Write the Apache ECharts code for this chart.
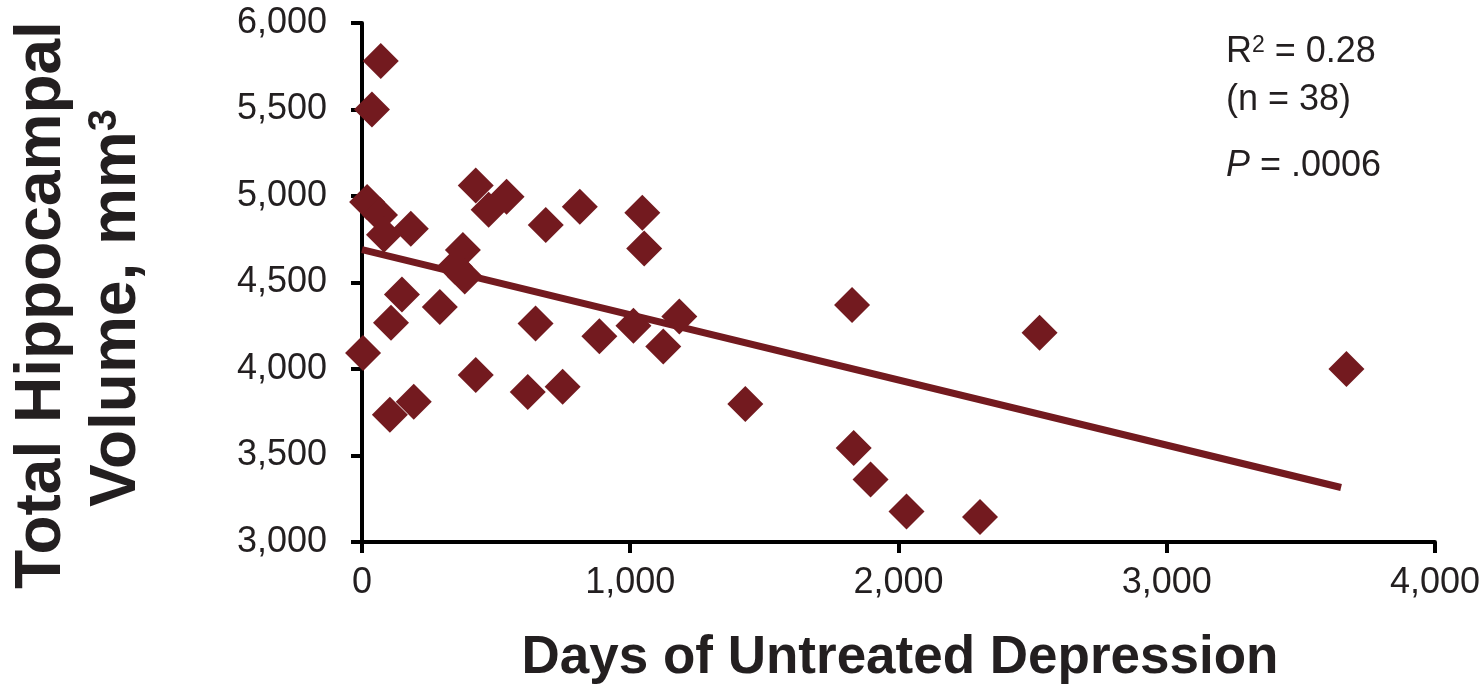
<!DOCTYPE html>
<html>
<head>
<meta charset="utf-8">
<title>Hippocampal volume vs. days of untreated depression</title>
<script src="https://cdn.jsdelivr.net/npm/echarts@6/dist/echarts.min.js"></script>
<style>
  html, body { margin: 0; padding: 0; background: #fff; }
  #chart { width: 1483px; height: 688px; }
</style>
</head>
<body>
<div id="chart"></div>
<script>
// Days of untreated depression for each subject
const daysUntreated = [
  70, 37, 424, 539, 472, 685, 812, 1045, 1052, 182,
  19, 67, 82, 376, 346, 383, 149, 290, 108, 4,
  647, 885, 1012, 1123, 1183, 424, 618, 748, 104, 193,
  1827, 1429, 2526, 3670, 1833, 1896, 2030, 2304
];
// Total hippocampal volume (mm³) for the same subjects
const hippocampalVolume = [
  5780, 5500, 5060, 4995, 4920, 4833, 4938, 4903, 4697, 4810,
  4965, 4890, 4776, 4688, 4592, 4535, 4430, 4358, 4268, 4092,
  4263, 4190, 4250, 4130, 4303, 3966, 3867, 3898, 3735, 3811,
  4370, 3798, 4210, 4000, 3543, 3361, 3177, 3145
];
// Linear fit endpoints
const trendDays = [0, 3650];
const trendVolume = [4690, 3315];

// Axis ranges
const xRange = [0, 4000, 1000];
const yRange = [3000, 6000, 500];

// Annotation values
const rSquared = '0.28';
const sampleSize = 38;
const pValueText = '.0006';

const MAROON = '#731a1f';
const INK = '#231f20';
const FONT = '"Liberation Sans", Arial, Helvetica, sans-serif';

const points = daysUntreated.map((d, i) => [d, hippocampalVolume[i]]);
const trend = trendDays.map((d, i) => [d, trendVolume[i]]);
const fmt = v => v.toLocaleString('en-US');

const chart = echarts.init(document.getElementById('chart'), null, { renderer: 'canvas' });

const axisCommon = {
  type: 'value',
  splitLine: { show: false },
  axisLine: { show: true, lineStyle: { color: '#000', width: 4 } },
  axisTick: { show: true, inside: false, length: 11, lineStyle: { color: '#000', width: 4 } },
  axisLabel: {
    color: INK, fontFamily: FONT, fontSize: 36,
    formatter: fmt
  }
};

const bodyText = { fontFamily: FONT, fontSize: 36, fill: INK, verticalAlign: 'bottom' };
const supText = { fontFamily: FONT, fontSize: 23, fill: INK, verticalAlign: 'top' };

chart.setOption({
  animation: false,
  backgroundColor: '#fff',
  grid: { left: 362, right: 46, top: 23, bottom: 146, containLabel: false },
  xAxis: Object.assign({}, axisCommon, {
    min: xRange[0], max: xRange[1], interval: xRange[2],
    axisLabel: Object.assign({}, axisCommon.axisLabel, { margin: 23 })
  }),
  yAxis: Object.assign({}, axisCommon, {
    min: yRange[0], max: yRange[1], interval: yRange[2],
    axisLabel: Object.assign({}, axisCommon.axisLabel, { margin: 35 })
  }),
  series: [
    {
      type: 'line',
      data: trend,
      symbol: 'none',
      lineStyle: { color: MAROON, width: 7 },
      z: 2
    },
    {
      type: 'scatter',
      data: points,
      symbol: 'diamond',
      symbolSize: [36, 36],
      itemStyle: { color: MAROON, opacity: 1 },
      z: 3
    }
  ],
  graphic: [
    {
      type: 'text', x: 42, y: 305, rotation: Math.PI / 2,
      style: {
        text: 'Total Hippocampal', fill: INK,
        font: 'bold 64px ' + FONT, align: 'center', verticalAlign: 'middle'
      }
    },
    {
      type: 'text', x: 117, y: 308, rotation: Math.PI / 2,
      style: {
        text: '{b|Volume, mm}{s|3}', fill: INK,
        align: 'center', verticalAlign: 'middle',
        rich: {
          b: { fontFamily: FONT, fontWeight: 'bold', fontSize: 64, fill: INK, verticalAlign: 'bottom' },
          s: { fontFamily: FONT, fontWeight: 'bold', fontSize: 40, fill: INK, verticalAlign: 'top' }
        }
      }
    },
    {
      type: 'text', x: 900, y: 658,
      style: {
        text: 'Days of Untreated Depression', fill: INK,
        font: 'bold 53px ' + FONT, align: 'center', verticalAlign: 'middle'
      }
    },
    {
      type: 'text', x: 1226, y: 52,
      style: {
        text: '{t|R}{s|2}{t| = ' + rSquared + '}', fill: INK,
        align: 'left', verticalAlign: 'middle',
        rich: { t: bodyText, s: supText }
      }
    },
    {
      type: 'text', x: 1226, y: 100,
      style: {
        text: '(n = ' + sampleSize + ')', fill: INK,
        font: '36px ' + FONT, align: 'left', verticalAlign: 'middle'
      }
    },
    {
      type: 'text', x: 1226, y: 166,
      style: {
        text: '{i|P}{t| = ' + pValueText + '}', fill: INK,
        align: 'left', verticalAlign: 'middle',
        rich: {
          i: { fontStyle: 'italic', fontSize: 36, fontFamily: FONT, fill: INK },
          t: { fontSize: 36, fontFamily: FONT, fill: INK }
        }
      }
    }
  ]
});
</script>
</body>
</html>
